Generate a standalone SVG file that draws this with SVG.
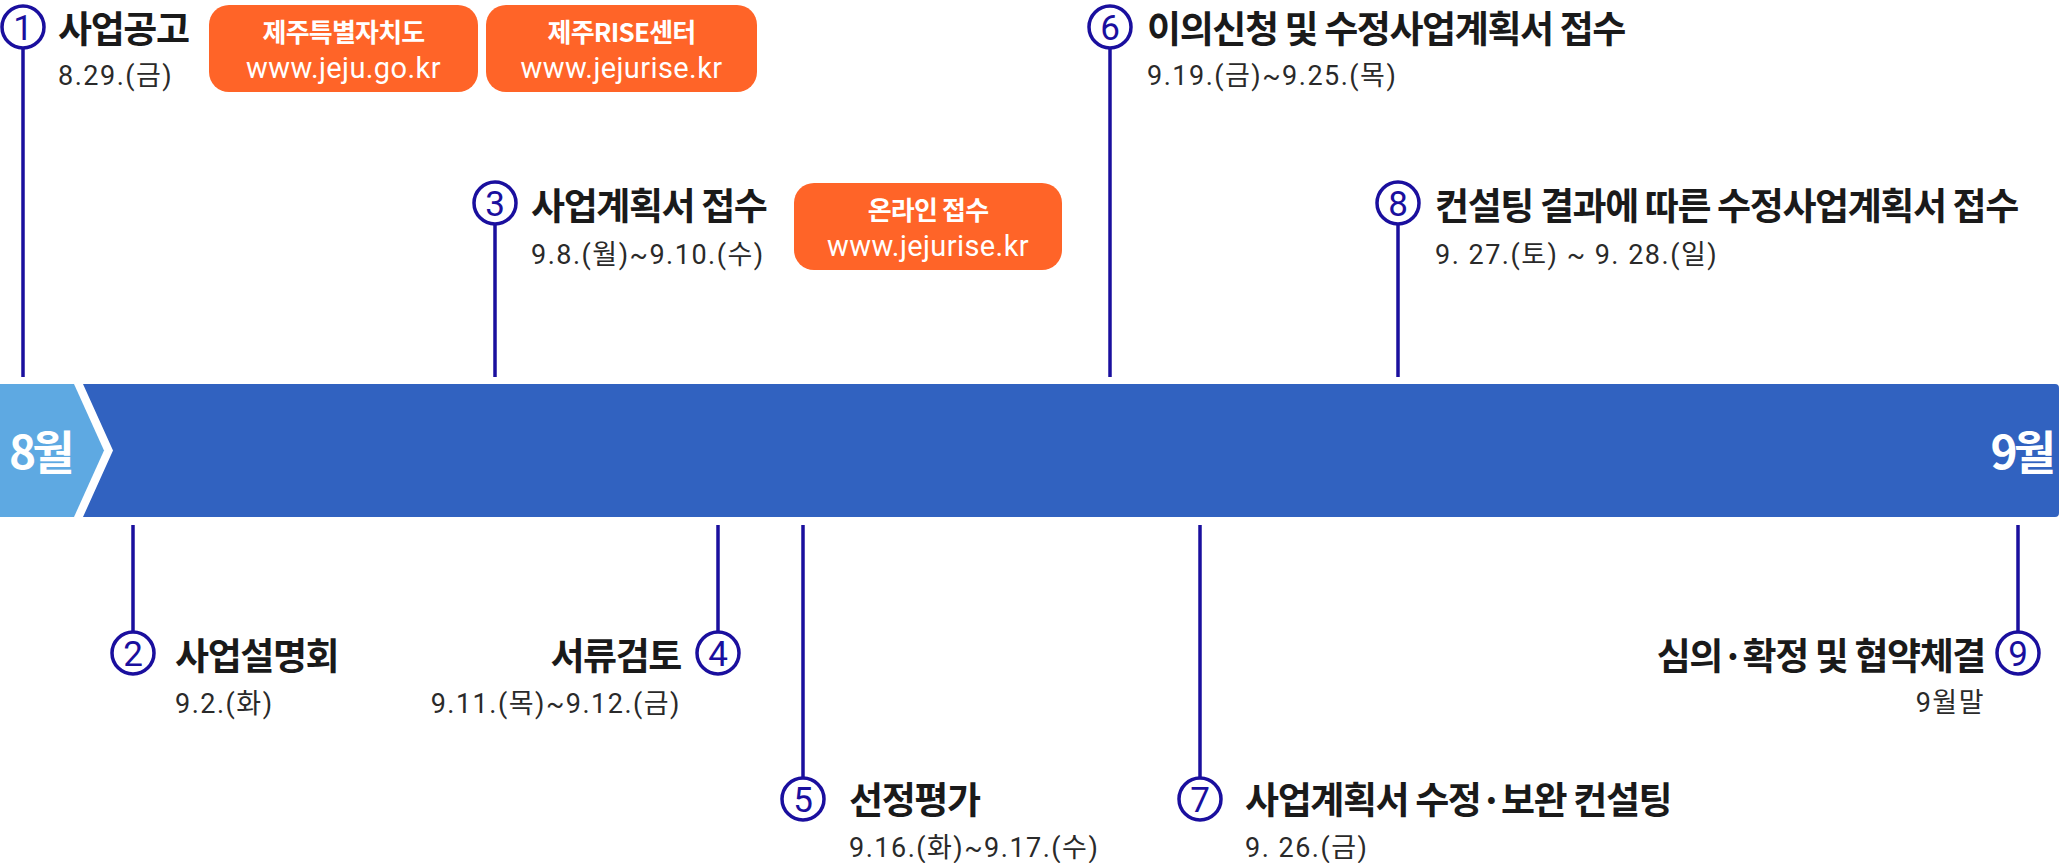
<svg xmlns="http://www.w3.org/2000/svg" width="2060" height="863" viewBox="0 0 2060 863">
<defs>
<style>
.bg{fill:#ffffff}
.bar{fill:#3162C0}
.barl{fill:#5EA9E2}
.month{font-family:"Noto Sans CJK KR","Noto Sans",sans-serif;font-weight:700;font-size:46px;fill:#ffffff;letter-spacing:-4px}
.ln{stroke:#1A0F9E;stroke-width:3.5;fill:none}
.cir{stroke:#1A0F9E;stroke-width:3.5;fill:#ffffff}
.num{font-family:Roboto,"Liberation Sans",sans-serif;font-weight:400;font-size:35px;fill:#1A0F9E;text-anchor:middle}
.ttl{font-family:"Noto Sans CJK KR","Noto Sans",sans-serif;font-weight:700;font-size:37px;fill:#1a1a1a;letter-spacing:-1.4px}
.dt{font-family:Roboto,"Noto Sans CJK KR",sans-serif;font-weight:400;font-size:27px;fill:#2a2a2a;letter-spacing:1.5px}
.end{text-anchor:end}
.box{fill:#FF6428}
.bl{font-family:"Noto Sans CJK KR","Noto Sans",sans-serif;font-weight:700;font-size:26px;fill:#ffffff;text-anchor:middle;letter-spacing:-0.8px}
.url{font-family:Roboto,"Liberation Sans",sans-serif;font-weight:400;font-size:29px;fill:#ffffff;text-anchor:middle;letter-spacing:0.4px}
</style>
</defs>
<rect class="bg" x="0" y="0" width="2060" height="863"/>

<g id="timeline-bar">
<path class="barl" d="M0,384 H74 L104,450.5 L74,517 H0 Z"/>
<path class="bar" d="M83,384 H2055 A4,4 0 0 1 2059,388 V513 A4,4 0 0 1 2055,517 H83 L113,450.5 Z"/>
<text class="month" x="9" y="469">8월</text>
<text class="month end" x="2052" y="469" text-anchor="end">9월</text>
</g>

<g id="connectors">
<line class="ln" x1="23" y1="49" x2="23" y2="377"/>
<line class="ln" x1="495" y1="225" x2="495" y2="377"/>
<line class="ln" x1="1110" y1="49" x2="1110" y2="377"/>
<line class="ln" x1="1398" y1="225" x2="1398" y2="377"/>
<line class="ln" x1="133" y1="525" x2="133" y2="631"/>
<line class="ln" x1="718" y1="525" x2="718" y2="631"/>
<line class="ln" x1="2018" y1="525" x2="2018" y2="631"/>
<line class="ln" x1="803" y1="525" x2="803" y2="777"/>
<line class="ln" x1="1200" y1="525" x2="1200" y2="777"/>
</g>

<g id="step1">
<circle class="cir" cx="23" cy="27" r="21"/>
<text class="num" x="23" y="39.5">1</text>
<text class="ttl" x="58" y="43">사업공고</text>
<text class="dt" x="58" y="85">8.29.(금)</text>
</g>

<g id="box-jeju">
<rect class="box" x="209" y="5" width="269" height="87" rx="20"/>
<text class="bl" x="343.5" y="42">제주특별자치도</text>
<text class="url" x="343.5" y="78">www.jeju.go.kr</text>
</g>

<g id="box-rise">
<rect class="box" x="486" y="5" width="271" height="87" rx="20"/>
<text class="bl" x="621.5" y="42">제주RISE센터</text>
<text class="url" x="621.5" y="78">www.jejurise.kr</text>
</g>

<g id="step3">
<circle class="cir" cx="495" cy="203" r="21"/>
<text class="num" x="495" y="215.5">3</text>
<text class="ttl" x="531" y="220">사업계획서 접수</text>
<text class="dt" x="531" y="264">9.8.(월)~9.10.(수)</text>
</g>

<g id="box-online">
<rect class="box" x="794" y="183" width="268" height="87" rx="20"/>
<text class="bl" x="928" y="220">온라인 접수</text>
<text class="url" x="928" y="256">www.jejurise.kr</text>
</g>

<g id="step6">
<circle class="cir" cx="1110" cy="27" r="21"/>
<text class="num" x="1110" y="39.5">6</text>
<text class="ttl" x="1147" y="43">이의신청 및 수정사업계획서 접수</text>
<text class="dt" x="1147" y="85">9.19.(금)~9.25.(목)</text>
</g>

<g id="step8">
<circle class="cir" cx="1398" cy="203" r="21"/>
<text class="num" x="1398" y="215.5">8</text>
<text class="ttl" x="1435" y="220">컨설팅 결과에 따른 수정사업계획서 접수</text>
<text class="dt" x="1435" y="264">9. 27.(토) ~ 9. 28.(일)</text>
</g>

<g id="step2">
<circle class="cir" cx="133" cy="653" r="21"/>
<text class="num" x="133" y="665.5">2</text>
<text class="ttl" x="175" y="670">사업설명회</text>
<text class="dt" x="175" y="713">9.2.(화)</text>
</g>

<g id="step4">
<circle class="cir" cx="718" cy="653" r="21"/>
<text class="num" x="718" y="665.5">4</text>
<text class="ttl end" x="681" y="670" text-anchor="end">서류검토</text>
<text class="dt end" x="681" y="713" text-anchor="end">9.11.(목)~9.12.(금)</text>
</g>

<g id="step5">
<circle class="cir" cx="803" cy="799" r="21"/>
<text class="num" x="803" y="811.5">5</text>
<text class="ttl" x="849" y="814">선정평가</text>
<text class="dt" x="849" y="857">9.16.(화)~9.17.(수)</text>
</g>

<g id="step7">
<circle class="cir" cx="1200" cy="799" r="21"/>
<text class="num" x="1200" y="811.5">7</text>
<text class="ttl" x="1245" y="814">사업계획서 수정·보완 컨설팅</text>
<text class="dt" x="1245" y="857">9. 26.(금)</text>
</g>

<g id="step9">
<circle class="cir" cx="2018" cy="653" r="21"/>
<text class="num" x="2018" y="665.5">9</text>
<text class="ttl end" x="1985" y="670" text-anchor="end">심의·확정 및 협약체결</text>
<text class="dt end" x="1985" y="712" text-anchor="end">9월말</text>
</g>
</svg>
